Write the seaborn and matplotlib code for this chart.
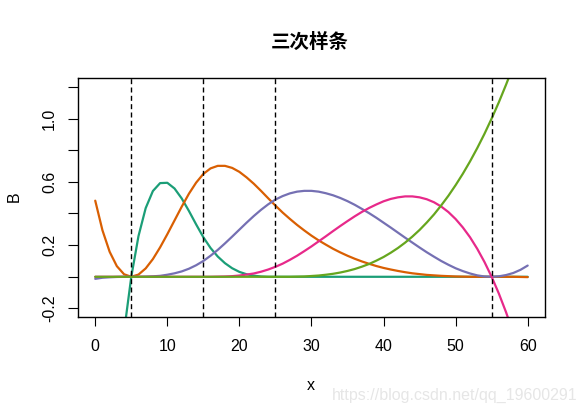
import numpy as np
import pandas as pd
import matplotlib
matplotlib.use("Agg")
import matplotlib.pyplot as plt
import seaborn as sns

# x grid and knot positions
x_vals = list(range(0, 61))
knots = [5, 15, 25, 55]

# basis curves (x = 0..60)
b1 = [-2.844, -2.032, -1.352, -0.794, -0.347, 0.0, 0.257, 0.434, 0.542, 0.592,
      0.594, 0.558, 0.495, 0.416, 0.331, 0.250, 0.182, 0.128, 0.086, 0.054,
      0.031, 0.016, 0.007, 0.002, 0.0] + [0.0] * 36
b2 = [0.481, 0.294, 0.158, 0.067, 0.016, 0.0, 0.014, 0.053, 0.112, 0.186,
      0.269, 0.356, 0.443, 0.525, 0.595, 0.650, 0.685, 0.701, 0.701, 0.688,
      0.663, 0.628, 0.588, 0.543, 0.496, 0.450, 0.406, 0.366, 0.328, 0.293,
      0.260, 0.230, 0.203, 0.177, 0.154, 0.133, 0.114, 0.097, 0.082, 0.068,
      0.056, 0.046, 0.037, 0.029, 0.022, 0.017, 0.012, 0.009, 0.006, 0.004,
      0.002, 0.001, 0.0, 0.0, 0.0, 0.0, 0.0, 0.0, 0.0, -0.001, -0.002]
b3 = [-0.013, -0.006, -0.003, -0.001, 0.0, 0.0, 0.0, 0.001, 0.003, 0.006,
      0.013, 0.022, 0.034, 0.051, 0.073, 0.100, 0.133, 0.170, 0.211, 0.254,
      0.298, 0.342, 0.384, 0.423, 0.458, 0.488, 0.510, 0.527, 0.538, 0.543,
      0.543, 0.538, 0.528, 0.515, 0.498, 0.478, 0.455, 0.429, 0.402, 0.373,
      0.342, 0.311, 0.279, 0.247, 0.216, 0.185, 0.155, 0.127, 0.100, 0.076,
      0.054, 0.036, 0.021, 0.009, 0.002, 0.0, 0.003, 0.011, 0.024, 0.044, 0.071]
b4 = [0.0] * 16 + [
      0.000, 0.001, 0.002, 0.004, 0.008, 0.014, 0.021, 0.032, 0.046, 0.063,
      0.083, 0.107, 0.133, 0.162, 0.192, 0.224, 0.256, 0.289, 0.321, 0.352,
      0.382, 0.410, 0.435, 0.457, 0.477, 0.492, 0.502, 0.508, 0.508, 0.502,
      0.490, 0.471, 0.444, 0.409, 0.365, 0.312, 0.250, 0.177, 0.094, 0.0,
      -0.106, -0.224, -0.355, -0.499, -0.657]
b5 = [0.0] * 26 + [
      0.000, 0.000, 0.001, 0.002, 0.005, 0.008, 0.013, 0.019, 0.027, 0.037,
      0.049, 0.064, 0.081, 0.102, 0.125, 0.152, 0.182, 0.216, 0.254, 0.296,
      0.343, 0.394, 0.451, 0.512, 0.579, 0.651, 0.729, 0.813, 0.903, 1.000,
      1.103, 1.214, 1.331, 1.456, 1.588]

y_ticks = [-0.2, 0.0, 0.2, 0.4, 0.6, 0.8, 1.0, 1.2]
y_labels = ["-0.2", "", "0.2", "", "0.6", "", "1.0", ""]
x_ticks = [0, 10, 20, 30, 40, 50, 60]

# long format for seaborn
frames = []
for name, vals in zip(["b1", "b2", "b3", "b4", "b5"], [b1, b2, b3, b4, b5]):
    frames.append(pd.DataFrame({"x": x_vals, "B": vals, "basis": name}))
df = pd.concat(frames).reset_index(drop=True)

sns.set_style("white")
plt.rcParams["font.family"] = ["Liberation Sans", "Noto Sans CJK SC", "DejaVu Sans"]
plt.rcParams["text.color"] = "black"

fig = plt.figure(figsize=(5.86, 4.15), dpi=100)
ax = fig.add_axes([0.133, 0.2354, 0.797, 0.5766])

sns.lineplot(data=df, x="x", y="B", hue="basis", palette=sns.color_palette("Dark2", 5),
             legend=False, linewidth=1.6, ax=ax, sort=False)

for k in knots:
    ax.axvline(k, color="black", linewidth=1.0, linestyle=(0, (3.6, 2.4)))

ax.set_xlim(-2.4, 62.4)
ax.set_ylim(-0.256, 1.256)
ax.set_xticks(x_ticks)
ax.set_xticklabels([str(t) for t in x_ticks])
ax.set_yticks(y_ticks)
ax.set_yticklabels(y_labels, rotation=90, va="center")
ax.tick_params(axis="x", direction="out", length=6.5, width=0.8, pad=9, labelsize=11.5, colors="black")
ax.tick_params(axis="y", direction="out", length=7, width=0.8, pad=8, labelsize=11.5, colors="black")
ax.tick_params(left=True, bottom=True)
for s in ax.spines.values():
    s.set_color("black")
    s.set_linewidth(1.0)
ax.set_xlabel("")
ax.set_ylabel("")

# titles and axis labels placed like the R original
fig.text(0.528, 0.899, "三次样条", ha="center", va="center", fontsize=14,
         fontweight="bold", color="black", family=["Noto Sans CJK SC", "DejaVu Sans"])
fig.text(0.531, 0.070, "x", ha="center", va="center", fontsize=11.5, color="black")
fig.text(0.024, 0.527, "B", ha="center", va="center", fontsize=11.5, rotation=90, color="black")

# watermark
fig.text(0.986, 0.046, "https://blog.csdn.net/qq_19600291", ha="right", va="center",
         fontsize=11.5, color="#e6e6e6")

fig.savefig("out.png", dpi=100)
